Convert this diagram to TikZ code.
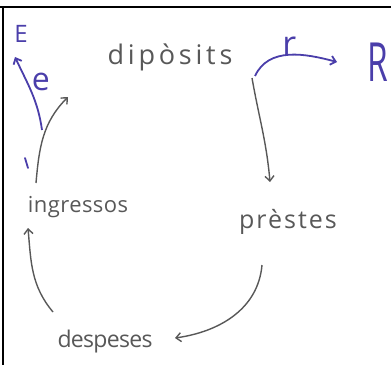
\documentclass[tikz,border=0pt]{standalone}
\usepackage{fontspec}
\usetikzlibrary{arrows.meta}
\setmainfont{Open Sans}
\definecolor{pen}{RGB}{74,62,170}
\definecolor{pencil}{RGB}{88,88,88}
\begin{document}
\begin{tikzpicture}[x=1pt,y=1pt,
  every node/.style={inner sep=1pt,text=pencil},
  word/.style={font=\fontsize{27}{27}\selectfont\addfontfeature{LetterSpace=14}},
  flow/.style={-{Straight Barb[length=5pt,width=9pt]},line width=1.4pt,draw=pencil},
  penflow/.style={-{Straight Barb[length=5pt,width=9pt]},line width=1.8pt,draw=pen},
  penword/.style={text=pen,font=\fontsize{24}{24}\selectfont}]
  \useasboundingbox (0,0) rectangle (391,365);
  \draw[line width=1.2pt] (0,358) -- (391,358);
  \draw[line width=1.2pt] (3,358) -- (3,0);
  \node[word] (dip) at (170,308) {dipòsits};
  \node[word,font=\fontsize{25}{25}\selectfont\addfontfeature{LetterSpace=8}] (pre) at (288,143) {prèstes};
  \node[word,font=\fontsize{23}{23}\selectfont\addfontfeature{LetterSpace=-3}] (desp) at (105,23) {despeses};
  \node[word,font=\fontsize{22}{22}\selectfont\addfontfeature{LetterSpace=2}] (ing) at (78,158) {ingressos};
  \node[penword] (E) at (21,331) {E};
  \node[penword,font=\fontsize{54}{54}\selectfont,xscale=0.62] (R) at (378,303) {R};
  \draw[flow] ([shift={(82,-21)}]dip.center) to[out=-80,in=95] ([shift={(-18,40)}]pre.center);
  \draw[flow] ([shift={(-26,-43)}]pre.center) to[out=-95,in=8] ([shift={(70,4)}]desp.center);
  \draw[flow] ([shift={(-52,30)}]desp.center) to[out=130,in=-85] ([shift={(-50,-21)}]ing.center);
  \draw[flow] ([shift={(-42,24)}]ing.center) to[out=85,in=225] ([shift={(-102,-40)}]dip.center);
  \draw[penflow] ([shift={(85,-19)}]dip.center) to[out=65,in=165] node[above=-3pt,penword,font=\fontsize{34}{34}\selectfont] (r) {r} ([shift={(-41,0)}]R.center);
  \draw[penflow] ([shift={(21,-96)}]E.center) to[out=98,in=-65] node[pos=0.66,right=3pt,penword,font=\fontsize{32}{32}\selectfont] (e) {e} ([shift={(-6,-23)}]E.center);
  \draw[pen,line width=1.8pt,line cap=round] ([shift={(4,-124)}]E.center) -- ([shift={(7,-134)}]E.center);
\end{tikzpicture}
\end{document}
